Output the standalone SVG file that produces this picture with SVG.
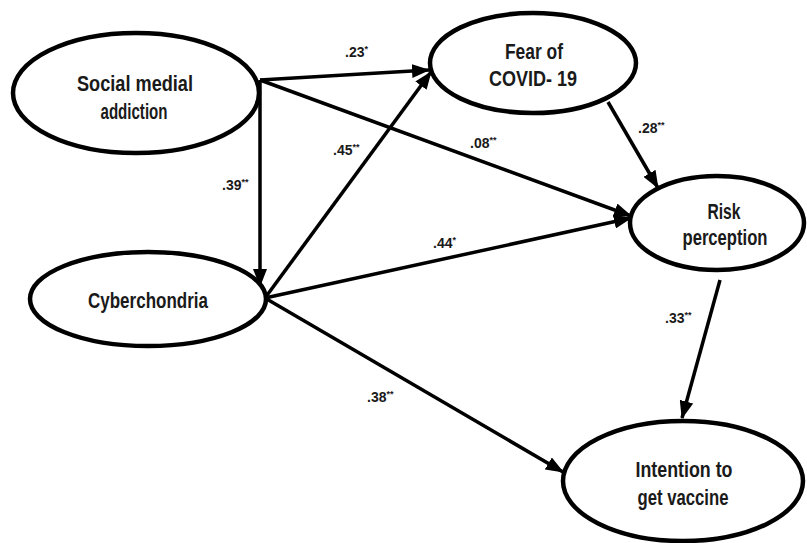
<svg xmlns="http://www.w3.org/2000/svg" width="807" height="543" viewBox="0 0 807 543">
<style>
.node ellipse{fill:#fff;stroke:#000;stroke-width:4.5}
.lbl{font-family:"Liberation Sans",Arial,sans-serif;font-weight:bold;font-size:22px;fill:#1a1a1a;text-anchor:middle}
.coef{font-family:"Liberation Sans",Arial,sans-serif;font-weight:bold;font-size:14px;fill:#1a1a1a}
.st{font-size:9px}
#edges line{stroke:#000;stroke-width:3.5;marker-end:url(#ah)}
</style>
<defs>
<marker id="ah" markerUnits="userSpaceOnUse" markerWidth="18" markerHeight="14" refX="17" refY="7" orient="auto">
<path d="M0,0 L18,7 L0,14 Z" fill="#000"/>
</marker>
</defs>
<rect width="807" height="543" fill="#fff"/>
<g id="edges">
<line x1="260" y1="80" x2="260" y2="286"/>
<line x1="260" y1="80" x2="429" y2="70"/>
<line x1="260" y1="80" x2="631" y2="216"/>
<line x1="265" y1="298" x2="431" y2="72"/>
<line x1="265" y1="298" x2="631" y2="218"/>
<line x1="265" y1="298" x2="563" y2="472"/>
<line x1="608" y1="102" x2="658" y2="188"/>
<line x1="720" y1="280" x2="682" y2="418"/>
</g>
<g id="n-social" class="node">
<ellipse cx="136" cy="93" rx="123" ry="60"/>
<text class="lbl" x="135" y="91" textLength="116" lengthAdjust="spacingAndGlyphs">Social medial</text>
<text class="lbl" x="134" y="119" textLength="67" lengthAdjust="spacingAndGlyphs">addiction</text>
</g>
<g id="n-fear" class="node">
<ellipse cx="533" cy="63" rx="103" ry="50"/>
<text class="lbl" x="534" y="59" textLength="58" lengthAdjust="spacingAndGlyphs">Fear of</text>
<text class="lbl" x="533" y="86" textLength="88" lengthAdjust="spacingAndGlyphs">COVID- 19</text>
</g>
<g id="n-risk" class="node">
<ellipse cx="717" cy="223" rx="87" ry="47"/>
<text class="lbl" x="724" y="219" textLength="33" lengthAdjust="spacingAndGlyphs">Risk</text>
<text class="lbl" x="725" y="245" textLength="85" lengthAdjust="spacingAndGlyphs">perception</text>
</g>
<g id="n-cyber" class="node">
<ellipse cx="148" cy="299" rx="118" ry="47"/>
<text class="lbl" x="148" y="308" textLength="120" lengthAdjust="spacingAndGlyphs">Cyberchondria</text>
</g>
<g id="n-intention" class="node">
<ellipse cx="683" cy="481" rx="120" ry="60"/>
<text class="lbl" x="684" y="477" textLength="97" lengthAdjust="spacingAndGlyphs">Intention to</text>
<text class="lbl" x="683" y="505" textLength="91" lengthAdjust="spacingAndGlyphs">get vaccine</text>
</g>
<g id="coefs">
<text class="coef" x="345" y="57">.23<tspan class="st" dy="-5">*</tspan></text>
<text class="coef" x="222" y="190">.39<tspan class="st" dy="-5">**</tspan></text>
<text class="coef" x="333" y="155">.45<tspan class="st" dy="-5">**</tspan></text>
<text class="coef" x="470" y="148">.08<tspan class="st" dy="-5">**</tspan></text>
<text class="coef" x="638" y="133">.28<tspan class="st" dy="-5">**</tspan></text>
<text class="coef" x="433" y="248">.44<tspan class="st" dy="-5">*</tspan></text>
<text class="coef" x="665" y="323">.33<tspan class="st" dy="-5">**</tspan></text>
<text class="coef" x="367" y="402">.38<tspan class="st" dy="-5">**</tspan></text>
</g>
</svg>
